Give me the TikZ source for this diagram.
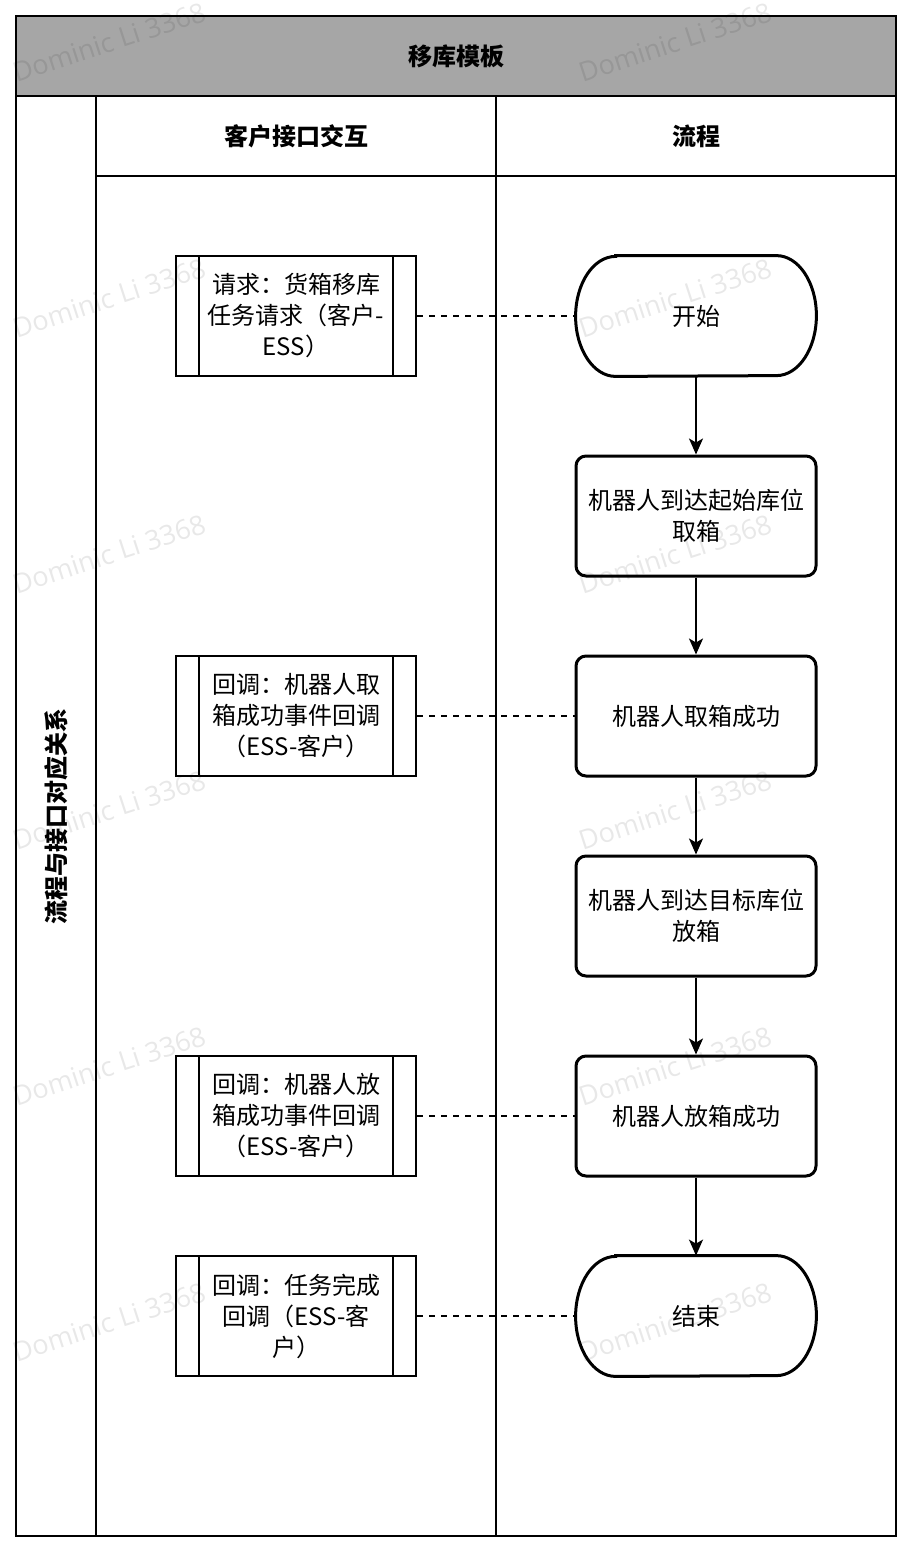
\documentclass[tikz,border=0pt]{standalone}
\usepackage{fontspec}
\setmainfont{Noto Sans CJK SC}
\newfontfamily\wmfont{Open Sans}
\usetikzlibrary{arrows.meta}
\definecolor{bandgray}{RGB}{166,166,166}
\begin{document}
\begin{tikzpicture}[x=0.5pt,y=-0.5pt,
  every node/.style={font=\fontsize{12pt}{15.5pt}\selectfont, align=center, inner sep=0pt},
  lane/.style={line width=1pt},
  hdr/.style={font=\fontsize{12pt}{15pt}\selectfont\bfseries},
  flowbox/.style={draw, line width=1.5pt, rounded corners=5pt, minimum width=120pt, minimum height=60pt},
  termbox/.style={minimum width=120pt, minimum height=60pt},
  procbox/.style={draw, line width=1pt, minimum width=120pt, minimum height=60pt, text width=96pt},
  termline/.style={line width=1.5pt},
  flowarrow/.style={-{Stealth[length=8pt,width=7pt,inset=2pt]}, line width=1pt},
  link/.style={dash pattern=on 3pt off 3pt, line width=1pt},
  wm/.style={font=\wmfont\fontsize{13.5pt}{14pt}\selectfont, text=black, text opacity=0.09, rotate=18}
]
\fill[white] (0,0) rectangle (914,1554);
\useasboundingbox (0,0) rectangle (914,1554);

% pool
\draw[lane, fill=bandgray] (16,16) rectangle (896,96);
\draw[lane] (16,96) rectangle (896,1536);
\draw[lane] (96,96) -- (96,1536);
\draw[lane] (496,96) -- (496,1536);
\draw[lane] (96,176) -- (896,176);
\node[hdr] (title) at (456,56) {移库模板};
\node[hdr] (colA) at (296,136) {客户接口交互};
\node[hdr] (colB) at (696,136) {流程};
\node[hdr, rotate=90] (lanelabel) at (56,816) {流程与接口对应关系};

% left process boxes
\node[procbox] (p1) at (296,316) {请求：货箱移库\\任务请求（客户-\\ESS）};
\node[procbox] (p2) at (296,716) {回调：机器人取\\箱成功事件回调\\（ESS-客户）};
\node[procbox] (p3) at (296,1116) {回调：机器人放\\箱成功事件回调\\（ESS-客户）};
\node[procbox] (p4) at (296,1316) {回调：任务完成\\回调（ESS-客\\户）};
\foreach \p in {p1,p2,p3,p4}{
  \draw[line width=1pt] ([xshift=12pt]\p.north west) -- ([xshift=12pt]\p.south west);
  \draw[line width=1pt] ([xshift=-12pt]\p.north east) -- ([xshift=-12pt]\p.south east);
}

% right flow
\node[termbox] (start) at (696,316) {开始};
\node[flowbox] (f2) at (696,516) {机器人到达起始库位\\取箱};
\node[flowbox] (f3) at (696,716) {机器人取箱成功};
\node[flowbox] (f4) at (696,916) {机器人到达目标库位\\放箱};
\node[flowbox] (f5) at (696,1116) {机器人放箱成功};
\node[termbox] (end) at (696,1316) {结束};
\foreach \t in {start,end}{
  \draw[termline] ([xshift=20pt]\t.north west) -- ([xshift=-20pt]\t.north east)
    arc[start angle=90,end angle=-90,x radius=20pt,y radius=30pt]
    -- ([xshift=20pt]\t.south west)
    arc[start angle=270,end angle=90,x radius=20pt,y radius=30pt] -- cycle;
}

\draw[flowarrow] (start) -- (f2);
\draw[flowarrow] (f2) -- (f3);
\draw[flowarrow] (f3) -- (f4);
\draw[flowarrow] (f4) -- (f5);
\draw[flowarrow] (f5) -- (end);

\draw[link] (p1) -- (start);
\draw[link] (p2) -- (f3);
\draw[link] (p3) -- (f5);
\draw[link] (p4) -- (end);

% watermarks
\foreach \y [count=\i] in {42,298,554,810,1066,1322}{
  \node[wm] (wmL\i) at (109,\y) {Dominic Li 3368};
  \node[wm] (wmR\i) at (675,\y) {Dominic Li 3368};
}
\end{tikzpicture}
\end{document}
